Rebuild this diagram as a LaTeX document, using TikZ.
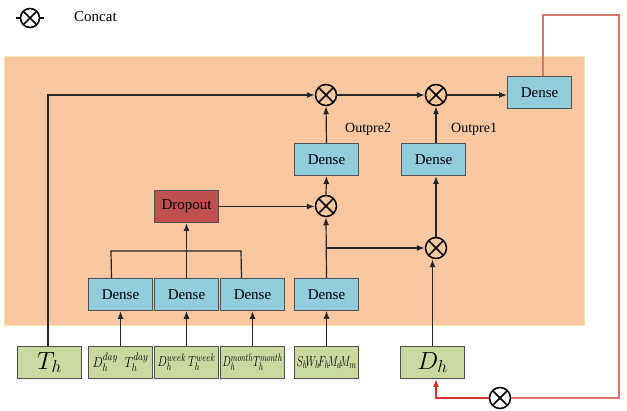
\documentclass[tikz,border=0pt]{standalone}
\usepackage{graphicx}
\usepackage{fontspec}
\setmainfont{Liberation Serif}
\usetikzlibrary{arrows.meta}
\definecolor{bgor}{HTML}{F9C7A0}
\definecolor{bgedge}{HTML}{FCE4A8}
\definecolor{densec}{HTML}{92CDDC}
\definecolor{dropc}{HTML}{C0504D}
\definecolor{inc}{HTML}{C9D9A0}
\definecolor{edgec}{HTML}{505050}
\definecolor{redc}{HTML}{D0342C}
\definecolor{redl}{HTML}{D9766C}
\tikzset{
  x=1pt,y=-1pt,
  box/.style={draw=edgec,line width=1pt,minimum width=64pt,minimum height=32pt,inner sep=0pt,anchor=north west,font=\fontsize{15}{15}\selectfont},
  densebox/.style={box,fill=densec},
  dropbox/.style={box,fill=dropc},
  inbox/.style={box,fill=inc},
  cat/.style={circle,draw=black,line width=1.5pt,minimum size=21pt,inner sep=0pt,
    path picture={\draw[line width=1.5pt] ([shift={(45:10.5pt)}]path picture bounding box.center) -- ([shift={(225:10.5pt)}]path picture bounding box.center);
    \draw[line width=1.5pt] ([shift={(135:10.5pt)}]path picture bounding box.center) -- ([shift={(315:10.5pt)}]path picture bounding box.center);}},
  conn/.style={draw=black!85,line width=1.2pt},
  arr/.style={conn,-{Latex[length=8pt,width=6pt]}},
  lbl/.style={font=\fontsize{14}{14}\selectfont,inner sep=0pt}
}
\newcommand{\squish}[2]{\resizebox{#1}{\height}{\fontsize{15}{15}\selectfont#2}}
\begin{document}
\begin{tikzpicture}
\useasboundingbox (0,0) rectangle (627,411);
% background
\fill[bgor,draw=bgedge,line width=1pt] (4,57) rectangle (584,326);
% legend
\node[cat,minimum size=19pt] (leg) at (30,18) {};
\draw[line width=1.3pt] (16,18) -- (leg.west);
\draw[line width=1.3pt] (leg.east) -- (44,18);
\node[lbl,anchor=west,font=\fontsize{15}{15}\selectfont] (legt) at (74,17) {Concat};
% inputs
\node[inbox] (th) at (17,346) {\fontsize{24}{24}\selectfont$T_h$};
\node[inbox] (dday) at (88,346) {\squish{56pt}{$D_h^{day}\;\;T_h^{day}$}};
\node[inbox] (dweek) at (154,346) {\squish{58pt}{$D_h^{week}\,T_h^{week}$}};
\node[inbox] (dmonth) at (220,346) {\squish{60pt}{$D_h^{month}T_h^{month}$}};
\node[inbox] (swf) at (294,346) {\squish{60pt}{$S_h\!W_h\!F_h\!M_d\!M_m$}};
\node[inbox] (dh) at (400,346) {\fontsize{24}{24}\selectfont$D_h$};
% dense row
\node[densebox] (d1) at (88,278) {Dense};
\node[densebox] (d2) at (154,278) {Dense};
\node[densebox] (d3) at (220,278) {Dense};
\node[densebox] (d4) at (294,278) {Dense};
\node[dropbox] (drop) at (154,190) {Dropout};
\node[densebox] (o2) at (294,143) {Dense};
\node[densebox] (o1) at (401,143) {Dense};
\node[densebox] (dt) at (507,76) {Dense};
% concat nodes
\node[cat] (c1) at (326,206) {};
\node[cat] (c2) at (436,248) {};
\node[cat] (c3) at (326,95) {};
\node[cat] (c4) at (436,95) {};
\node[cat] (c5) at (500,398) {};
% labels
\node[lbl,anchor=west] (l2) at (345,129) {Outpre2};
\node[lbl,anchor=west] (l1) at (451,129) {Outpre1};
% input arrows
\draw[arr] (dday.north) -- (d1.south);
\draw[arr,line width=0.8pt] (dweek.north) -- (d2.south);
\draw[arr] (dmonth.north) -- (d3.south);
\draw[arr,line width=0.6pt] (swf.north) -- (d4.south);
\draw[arr] (dh.north) -- (dh.north |- c2.south);
% bracket
\coordinate (b1) at (111,251);
\coordinate (b3) at (241,251);
\draw[conn] ([xshift=-9pt]d1.north) -- (b1) -- (b3) -- ([xshift=-11pt]d3.north);
\draw[arr] (d2.north) -- (drop.south);
\draw[arr] (drop.east) -- (drop.east -| c1.west);
% dense4 up
\coordinate (j) at (326,248);
\draw[arr] (d4.north) -- (c1.south);
\draw[arr] (j) -- (c2.west);
\draw[arr] (c1.north) -- (o2.south);
\draw[arr] (c2.north) -- (o1.south -| c2.north);
\draw[arr] (o2.north) -- (c3.south);
\draw[arr] (o1.north -| c4.south) -- (c4.south);
% Th path
\coordinate (tc) at (48,95);
\draw[arr] (th.north -| tc) -- (tc) -- (c3.west);
\draw[arr] (c3.east) -- (c4.west);
\draw[arr] (c4.east) -- (c4.east -| dt.west);
% red feedback
\coordinate (r1) at (543,15);
\coordinate (r2) at (619,15);
\coordinate (r3) at (619,398);
\coordinate (r4) at (436,398);
\draw[redl,line width=1.2pt] (dt.north -| r1) -- (r1) -- (r2) -- (r3) -- (c5.east);
\draw[redc,line width=1.2pt,-{Latex[length=8pt,width=6pt]}] (c5.west) -- (r4) -- (dh.south -| r4);
\end{tikzpicture}
\end{document}
